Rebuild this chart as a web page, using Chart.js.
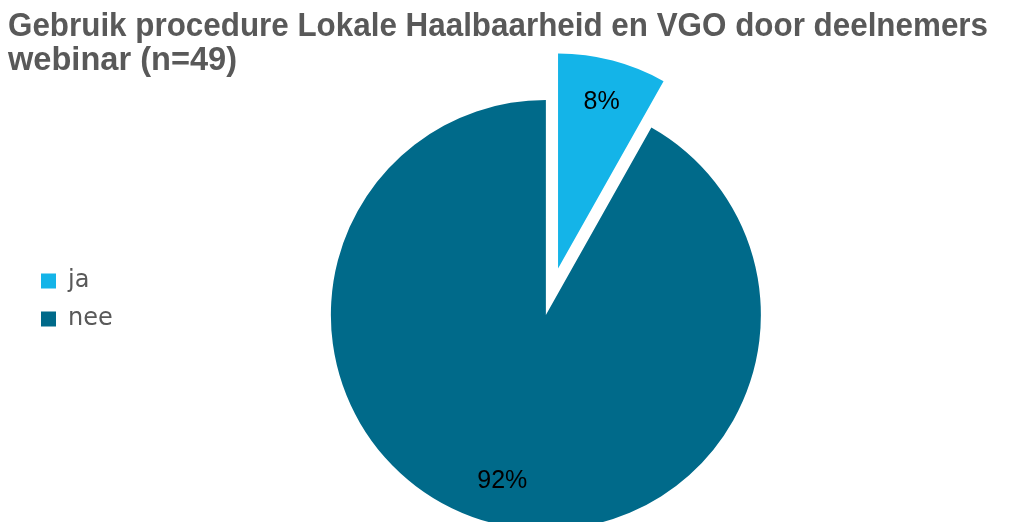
<!DOCTYPE html>
<html>
<head>
<meta charset="utf-8">
<script src="https://cdn.jsdelivr.net/npm/chart.js@4.4.0/dist/chart.umd.min.js"></script>
<style>
  html, body { margin: 0; padding: 0; background: #fff; overflow: hidden; }
  body { width: 1012px; height: 522px; }
</style>
</head>
<body>
<canvas id="grafiek" width="1012" height="552"></canvas>
<script>
/* ===================== DATA ===================== */
const titel = [
  "Gebruik procedure Lokale Haalbaarheid en VGO door deelnemers",
  "webinar (n=49)",
];
const antwoorden = ["ja", "nee"];
const aantallen = [4, 45];
const kleuren = ["#14B4E8", "#006A8A"];

const totaal = aantallen.reduce((a, b) => a + b, 0);
const percentages = aantallen.map((v) => Math.round((v / totaal) * 100) + "%");

/* ===================== PLUGINS ===================== */
// "ja"-taartpunt naar buiten schuiven (zoals in PowerPoint)
const uitgelicht = {
  id: "uitgelicht",
  afterDatasetsUpdate(chart) {
    const arc = chart.getDatasetMeta(0).data[0];
    const mid = (arc.startAngle + arc.endAngle) / 2;
    arc.x += Math.cos(mid) * 48;
    arc.y += Math.sin(mid) * 48;
  },
};

// legenda iets verplaatsen
const legendaPlek = {
  id: "legendaPlek",
  afterLayout(chart) {
    const lg = chart.legend;
    lg.left += 19;
    lg.right += 19;
    lg.top -= 15;
    lg.bottom -= 15;
  },
};

// percentages in de taartpunten
const etiketten = {
  id: "etiketten",
  afterDatasetsDraw(chart) {
    const { ctx } = chart;
    const meta = chart.getDatasetMeta(0);
    ctx.save();
    ctx.font = "25px 'Liberation Sans', Arial, sans-serif";
    ctx.fillStyle = "#000";
    ctx.textAlign = "center";
    ctx.textBaseline = "middle";
    meta.data.forEach((arc, i) => {
      const mid = (arc.startAngle + arc.endAngle) / 2;
      const r = arc.outerRadius * 0.8;
      ctx.fillText(percentages[i], arc.x + Math.cos(mid) * r, arc.y + Math.sin(mid) * r);
    });
    ctx.restore();
  },
};

/* ===================== GRAFIEK ===================== */
new Chart(document.getElementById("grafiek"), {
  type: "pie",
  data: {
    labels: antwoorden,
    datasets: [
      {
        data: aantallen,
        backgroundColor: kleuren,
        borderWidth: 0,
        radius: 215,
      },
    ],
  },
  plugins: [uitgelicht, legendaPlek, etiketten],
  options: {
    responsive: false,
    animation: false,
    events: [],
    layout: { padding: { left: 8, right: 24, top: 0, bottom: 0 } },
    plugins: {
      tooltip: { enabled: false },
      title: {
        display: true,
        text: titel,
        align: "start",
        color: "#595959",
        font: { family: "'Liberation Sans', Arial, sans-serif", size: 32.6, weight: "bold", lineHeight: 1.04 },
        padding: { top: 10, bottom: 0 },
      },
      legend: {
        position: "left",
        fullSize: false,
        labels: {
          boxWidth: 15,
          boxHeight: 15,
          padding: 14,
          color: "#595959",
          font: { family: "'DejaVu Sans', Verdana, sans-serif", size: 24 },
        },
      },
    },
  },
});
</script>
</body>
</html>
